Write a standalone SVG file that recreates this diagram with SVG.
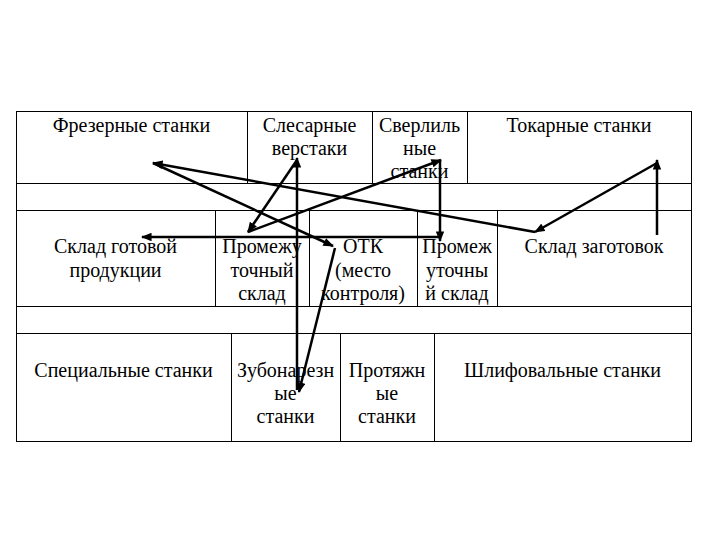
<svg xmlns="http://www.w3.org/2000/svg" width="720" height="540" viewBox="0 0 720 540">
<style>
.cell{fill:#fff;stroke:#000;stroke-width:1}
.t{font-family:"Liberation Serif","Times New Roman",serif;font-size:20px;fill:#000;text-anchor:middle}
.c{stroke:#000;stroke-width:2.5;fill:none;marker-end:url(#ah)}
</style>
<defs>
<marker id="ah" viewBox="0 0 10 8" refX="9" refY="4" markerWidth="4.4" markerHeight="3.4" orient="auto" markerUnits="strokeWidth">
<path d="M0,0 L10,4 L0,8 z" fill="#000"/>
</marker>
</defs>
<rect width="720" height="540" fill="#fff"/>
<g id="bands">
<rect class="cell" x="16.5" y="183.5" width="675" height="27"/>
<rect class="cell" x="16.5" y="306.5" width="675" height="27"/>
</g>
<g id="n-frez"><rect class="cell" x="16.5" y="111.5" width="231" height="72"/><text class="t" x="131.5" y="132">Фрезерные станки</text></g>
<g id="n-sles"><rect class="cell" x="247.5" y="111.5" width="125" height="72"/><text class="t" x="309.5" y="132">Слесарные</text><text class="t" x="309.5" y="155">верстаки</text></g>
<g id="n-sverl"><rect class="cell" x="372.5" y="111.5" width="95" height="72"/><text class="t" x="419.5" y="132">Сверлиль</text><text class="t" x="419.5" y="155">ные</text><text class="t" x="419.5" y="178">станки</text></g>
<g id="n-tokar"><rect class="cell" x="467.5" y="111.5" width="224" height="72"/><text class="t" x="579" y="132">Токарные станки</text></g>
<g id="n-gotov"><rect class="cell" x="16.5" y="210.5" width="199" height="96"/><text class="t" x="115.5" y="253">Склад готовой</text><text class="t" x="115.5" y="277">продукции</text></g>
<g id="n-prom1"><rect class="cell" x="215.5" y="210.5" width="94" height="96"/><text class="t" x="262" y="253">Промежу</text><text class="t" x="262" y="277">точный</text><text class="t" x="262" y="300">склад</text></g>
<g id="n-otk"><rect class="cell" x="309.5" y="210.5" width="108" height="96"/><text class="t" x="363" y="253">ОТК</text><text class="t" x="363" y="277">(место</text><text class="t" x="363" y="300">контроля)</text></g>
<g id="n-prom2"><rect class="cell" x="417.5" y="210.5" width="80" height="96"/><text class="t" x="457" y="253">Промеж</text><text class="t" x="457" y="277">уточны</text><text class="t" x="457" y="300">й склад</text></g>
<g id="n-zagot"><rect class="cell" x="497.5" y="210.5" width="194" height="96"/><text class="t" x="594" y="253">Склад заготовок</text></g>
<g id="n-spec"><rect class="cell" x="16.5" y="333.5" width="215" height="108"/><text class="t" x="123.5" y="377">Специальные станки</text></g>
<g id="n-zub"><rect class="cell" x="231.5" y="333.5" width="109" height="108"/><text class="t" x="285.5" y="377">Зубонарезн</text><text class="t" x="285.5" y="400">ые</text><text class="t" x="285.5" y="423">станки</text></g>
<g id="n-prot"><rect class="cell" x="340.5" y="333.5" width="94" height="108"/><text class="t" x="387" y="377">Протяжн</text><text class="t" x="387" y="400">ые</text><text class="t" x="387" y="423">станки</text></g>
<g id="n-shlif"><rect class="cell" x="434.5" y="333.5" width="257" height="108"/><text class="t" x="562.5" y="377">Шлифовальные станки</text></g>
<g id="connectors">
<path class="c" d="M657,235 L657,160"/>
<path class="c" d="M657,163 L535,232"/>
<path class="c" d="M535,232 L153,163"/>
<path class="c" d="M153,163 L333,246"/>
<path class="c" d="M335,248 L299,392"/>
<path class="c" d="M297,390 L297,158"/>
<path class="c" d="M297,160 L248,232"/>
<path class="c" d="M248,232 L441,160"/>
<path class="c" d="M440,160 L440,241"/>
<path class="c" d="M440,237 L142,237"/>
</g>
</svg>
